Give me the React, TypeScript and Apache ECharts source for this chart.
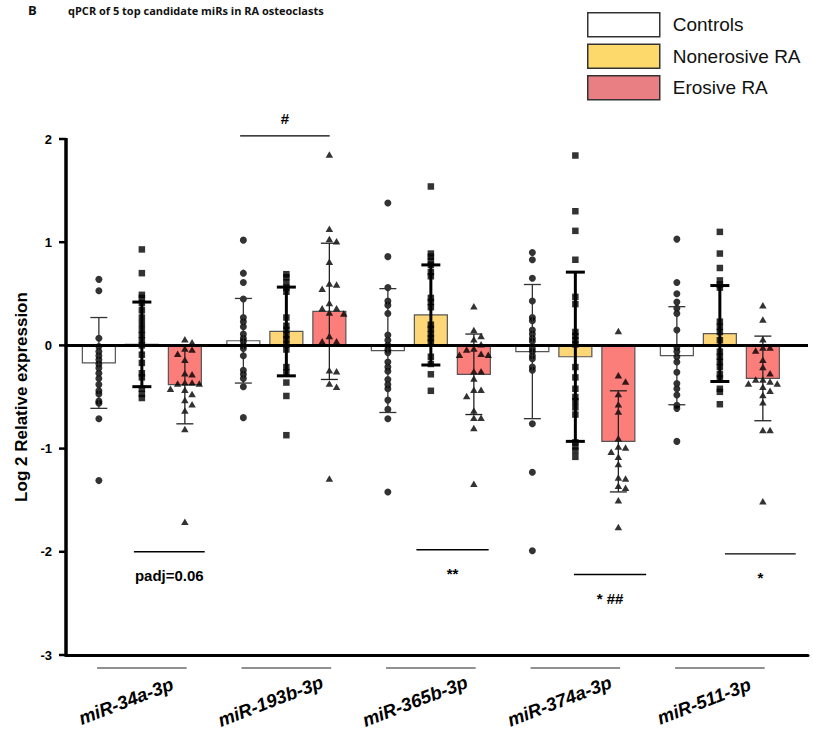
import React, { useEffect, useRef } from 'react';
import * as echarts from 'echarts';

// ---------- data ----------
const categories = ['miR-34a-3p', 'miR-193b-3p', 'miR-365b-3p', 'miR-374a-3p', 'miR-511-3p'];
const groups = ['Controls', 'Nonerosive RA', 'Erosive RA'];

const controlsMean = [-0.17, 0.045, -0.05, -0.06, -0.1];
const controlsSD = [0.44, 0.41, 0.6, 0.65, 0.475];
const nonerosiveMean = [0.01, 0.135, 0.295, -0.11, 0.115];
const nonerosiveSD = [0.41, 0.43, 0.485, 0.82, 0.465];
const erosiveMean = [-0.38, 0.33, -0.28, -0.93, -0.32];
const erosiveSD = [0.38, 0.66, 0.39, 0.49, 0.41];

const controlsPoints = [
  [0.64, 0.53, 0.07, -0.01, -0.06, -0.1, -0.14, -0.18, -0.22, -0.27, -0.32, -0.38, -0.44, -0.47, -0.54, -0.56, -0.71, -1.31],
  [1.02, 0.7, 0.61, 0.45, 0.27, 0.23, 0.18, 0.11, 0.07, 0.04, 0.0, -0.03, -0.1, -0.24, -0.28, -0.32, -0.4, -0.7],
  [1.38, 0.86, 0.56, 0.43, 0.39, 0.31, 0.1, 0.05, 0.0, -0.04, -0.07, -0.16, -0.21, -0.25, -0.33, -0.38, -0.42, -0.53, -0.62, -0.71, -1.42],
  [0.9, 0.83, 0.65, 0.43, 0.27, 0.24, 0.15, 0.11, 0.07, 0.04, -0.03, -0.06, -0.1, -0.13, -0.21, -0.24, -0.76, -1.23, -1.99],
  [1.03, 0.61, 0.5, 0.42, 0.36, 0.31, 0.15, -0.02, -0.06, -0.11, -0.16, -0.26, -0.37, -0.42, -0.48, -0.58, -0.61, -0.93],
];
const nonerosivePoints = [
  [0.93, 0.7, 0.49, 0.46, 0.41, 0.34, 0.27, 0.21, 0.15, 0.1, 0.05, 0.0, -0.09, -0.17, -0.27, -0.31, -0.42, -0.47, -0.51],
  [0.69, 0.66, 0.61, 0.56, 0.52, 0.27, 0.19, 0.15, 0.1, 0.06, 0.01, -0.04, -0.21, -0.26, -0.36, -0.49, -0.87],
  [1.54, 0.89, 0.86, 0.82, 0.78, 0.71, 0.67, 0.46, 0.42, 0.37, 0.2, 0.16, 0.11, 0.07, 0.03, -0.11, -0.18, -0.28, -0.44],
  [1.84, 1.3, 1.11, 0.83, 0.47, 0.4, 0.13, 0.09, 0.05, 0.01, -0.21, -0.31, -0.42, -0.5, -0.54, -0.6, -0.67, -0.94, -0.98, -1.02, -1.08],
  [1.1, 0.89, 0.75, 0.63, 0.59, 0.56, 0.23, 0.18, 0.13, 0.05, -0.06, -0.11, -0.16, -0.21, -0.28, -0.32, -0.42, -0.45, -0.57],
];
const erosivePoints = [
  [0.06, 0.03, -0.03, -0.04, -0.08, -0.14, -0.27, -0.28, -0.36, -0.36, -0.37, -0.37, -0.42, -0.43, -0.47, -0.53, -0.57, -0.63, -0.81, -1.71],
  [1.85, 1.13, 1.03, 1.01, 0.81, 0.6, 0.59, 0.55, 0.41, 0.36, 0.36, 0.32, 0.31, 0.09, 0.04, 0.04, -0.24, -0.25, -0.37, -0.4, -1.29],
  [0.38, 0.15, 0.09, 0.06, 0.01, -0.03, -0.04, -0.08, -0.09, -0.09, -0.25, -0.25, -0.32, -0.43, -0.43, -0.49, -0.63, -0.7, -0.7, -0.8, -1.34],
  [0.14, -0.29, -0.35, -0.47, -0.57, -0.64, -0.9, -0.98, -0.99, -1.03, -1.08, -1.15, -1.28, -1.29, -1.36, -1.38, -1.5, -1.76],
  [0.39, 0.25, 0.06, -0.02, -0.02, -0.05, -0.14, -0.21, -0.27, -0.33, -0.33, -0.35, -0.37, -0.37, -0.4, -0.44, -0.48, -0.55, -0.82, -0.82, -1.51],
];

// significance annotations
const annCats = [0, 1, 2, 3, 4];
const annLevels = [-2.0, 2.03, -1.98, -2.22, -2.02];
const annTexts = ['padj=0.06', '#', '**', '* ##', '*'];

// y tick values
const yTicks = [-3, -2, -1, 0, 1, 2];

// ---------- layout / style ----------
const GRID = { left: 66, top: 139, width: 742, height: 516 };
const X_MIN = -0.525;
const X_MAX = 4.61;
const Y_MIN = -3;
const Y_MAX = 2;
const PX_X = GRID.width / (X_MAX - X_MIN);
const PX_Y = GRID.height / (Y_MAX - Y_MIN);
const GROUP_STEP = 43 / PX_X;
const BAR_W = 33;
const LABEL_SHIFT = 0.11;
const annShift = [0.19, -0.01, 0.15, 0.24, 0.28];
const annHalf = [0.245, 0.31, 0.25, 0.25, 0.245];
const annAbove = [false, true, false, false, false];

const FONT = 'Liberation Sans, Arial, sans-serif';
const barFill = ['#ffffff', '#FDD677', '#FB7E7A'];
const legendFill = ['#ffffff', '#FCD96A', '#E97F82'];
const symbols = ['circle', 'rect', 'triangle'];
const symbolSizes: any[] = [7, 6.5, [7.5, 6.5]];
const collide = [1, 1, 7];
const errWidth = [1.3, 3, 1.3];
const errColor = ['#333', '#000', '#222'];

const means = [controlsMean, nonerosiveMean, erosiveMean];
const sds = [controlsSD, nonerosiveSD, erosiveSD];
const points = [controlsPoints, nonerosivePoints, erosivePoints];

function swarm(values: number[], dist: number, step: number): number[] {
  const order = values.map((v, i) => i).sort((a, b) => values[b] - values[a]);
  const placed: { x: number; y: number }[] = [];
  const out = new Array(values.length).fill(0);
  for (const idx of order) {
    const y = values[idx] * PX_Y;
    for (let k = 0; k < 40; k++) {
      const m = k === 0 ? 0 : (k % 2 === 1 ? (k + 1) / 2 : -k / 2);
      const x = m * step;
      const ok = placed.every((p) => (p.x - x) ** 2 + (p.y - y) ** 2 >= dist * dist);
      if (ok) {
        placed.push({ x, y });
        out[idx] = x / PX_X;
        break;
      }
    }
  }
  return out;
}

export default function App() {
  const ref = useRef<HTMLDivElement>(null);
  useEffect(() => {
    if (!ref.current) return;
    const chart = echarts.init(ref.current, null, { renderer: 'svg' });
    const series: any[] = [];

    // bars
    groups.forEach((g, s) => {
      series.push({
        name: g,
        type: 'custom',
        z: 1,
        encode: { x: 0, y: 1 },
        itemStyle: { color: legendFill[s], borderColor: '#333', borderWidth: 1.5 },
        data: categories.map((_, i) => [i + (s - 1) * GROUP_STEP, means[s][i]]),
        renderItem: (_p: any, api: any) => {
          const x = api.value(0);
          const m = api.value(1);
          const top = api.coord([x, m]);
          const base = api.coord([x, 0]);
          return {
            type: 'rect',
            shape: { x: top[0] - BAR_W / 2, y: Math.min(top[1], base[1]), width: BAR_W, height: Math.abs(top[1] - base[1]) },
            style: { fill: barFill[s], stroke: '#555', lineWidth: 1.2 },
          };
        },
      });
    });

    // points
    groups.forEach((g, s) => {
      const data: number[][] = [];
      points[s].forEach((vals, i) => {
        const offs = swarm(vals, collide[s], 7.2);
        vals.forEach((v, j) => data.push([i + (s - 1) * GROUP_STEP + offs[j], v]));
      });
      const ser: any = {
        name: g + ' points',
        type: 'scatter',
        z: 3,
        symbol: symbols[s],
        symbolSize: symbolSizes[s],
        itemStyle: { color: '#000' },
        data,
      };
      if (s === 0) {
        ser.markLine = {
          silent: true,
          symbol: 'none',
          label: { show: false },
          lineStyle: { color: '#000', width: 3, type: 'solid' },
          data: [{ yAxis: 0 }],
        };
      }
      series.push(ser);
    });

    // error bars
    groups.forEach((g, s) => {
      series.push({
        name: g + ' sd',
        type: 'custom',
        z: 4,
        encode: { x: 0, y: 1 },
        data: categories.map((_, i) => [i + (s - 1) * GROUP_STEP, means[s][i], sds[s][i]]),
        renderItem: (_p: any, api: any) => {
          const x = api.value(0);
          const m = api.value(1);
          const sd = api.value(2);
          const hi = api.coord([x, m + sd]);
          const lo = api.coord([x, m - sd]);
          const cw = s === 1 ? 9.5 : 8.5;
          const st = { stroke: errColor[s], lineWidth: errWidth[s] };
          return {
            type: 'group',
            children: [
              { type: 'line', shape: { x1: hi[0], y1: hi[1], x2: lo[0], y2: lo[1] }, style: st },
              { type: 'line', shape: { x1: hi[0] - cw, y1: hi[1], x2: hi[0] + cw, y2: hi[1] }, style: st },
              { type: 'line', shape: { x1: lo[0] - cw, y1: lo[1], x2: lo[0] + cw, y2: lo[1] }, style: st },
            ],
          };
        },
      });
    });

    // group lines under the axis
    series.push({
      name: 'group lines',
      type: 'custom',
      clip: false,
      silent: true,
      encode: { x: 0, y: 1 },
      data: categories.map((_, i) => [i, Y_MIN]),
      renderItem: (_p: any, api: any) => {
        const a = api.coord([api.value(0) - 0.31, api.value(1)]);
        const b = api.coord([api.value(0) + 0.31, api.value(1)]);
        return {
          type: 'line',
          shape: { x1: a[0], y1: a[1] + 13, x2: b[0], y2: b[1] + 13 },
          style: { stroke: '#222', lineWidth: 1.2 },
        };
      },
    });

    // significance annotations
    series.push({
      name: 'annotations',
      type: 'custom',
      clip: false,
      silent: true,
      z: 5,
      encode: { x: 0, y: 1 },
      data: annCats.map((c, k) => [c + annShift[k], annLevels[k], k]),
      renderItem: (_p: any, api: any) => {
        const k = api.value(2);
        const x = api.value(0);
        const y = api.value(1);
        const a = api.coord([x - annHalf[k], y]);
        const b = api.coord([x + annHalf[k], y]);
        const c = api.coord([x, y]);
        return {
          type: 'group',
          children: [
            { type: 'line', shape: { x1: a[0], y1: a[1], x2: b[0], y2: b[1] }, style: { stroke: '#000', lineWidth: 1.4 } },
            {
              type: 'text',
              style: {
                text: annTexts[k],
                x: c[0],
                y: c[1] + (annAbove[k] ? -17 : 24),
                align: 'center',
                verticalAlign: 'middle',
                fontSize: 15,
                fontWeight: 'bold',
                fontFamily: FONT,
                fill: '#000',
              },
            },
          ],
        };
      },
    });

    chart.setOption({
      animation: false,
      backgroundColor: '#fff',
      grid: { left: GRID.left, top: GRID.top, width: GRID.width, height: GRID.height, containLabel: false },
      legend: {
        data: groups.map((g, s) => ({
          name: g,
          icon: 'rect',
          itemStyle: { color: legendFill[s], borderColor: '#333', borderWidth: 1.5 },
        })),
        orient: 'vertical',
        left: 587,
        top: 12,
        padding: 0,
        itemWidth: 72,
        itemHeight: 24,
        itemGap: 6,
        selectedMode: false,
        textStyle: { fontSize: 19, fontFamily: FONT, color: '#111', padding: [0, 0, 0, 8] },
      },
      xAxis: {
        type: 'value',
        min: X_MIN,
        max: X_MAX,
        axisLine: { show: true, onZero: false, lineStyle: { color: '#000', width: 3 } },
        axisTick: { show: false },
        splitLine: { show: false },
        axisLabel: {
          customValues: categories.map((_, i) => i - LABEL_SHIFT),
          formatter: (v: number) => categories[Math.round(v + LABEL_SHIFT)] || '',
          rotate: 21,
          align: 'center',
          verticalAlign: 'middle',
          margin: 46,
          fontSize: 18.5,
          fontWeight: 'bold',
          fontStyle: 'italic',
          fontFamily: FONT,
          color: '#000',
        },
      },
      yAxis: {
        type: 'value',
        position: 'left',
        min: Y_MIN,
        max: Y_MAX,
        interval: 1,
        axisLine: { show: false, onZero: false },
        axisTick: { show: false },
        splitLine: { show: false },
        axisLabel: { fontSize: 13, fontWeight: 'bold', color: '#000', margin: 14, fontFamily: FONT },
        name: 'Log 2 Relative expression',
        nameLocation: 'middle',
        nameGap: 36,
        nameTextStyle: { fontSize: 17, fontWeight: 'bold', color: '#000', fontFamily: FONT },
      },
      series,
    });

    // y axis line and ticks, positioned through the chart's own scale
    const bottom = chart.convertToPixel({ gridIndex: 0 }, [X_MIN, Y_MIN]) as number[];
    const top = chart.convertToPixel({ gridIndex: 0 }, [X_MIN, Y_MAX]) as number[];
    const axisEls: any[] = [
      {
        type: 'line',
        z: 100,
        silent: true,
        shape: { x1: bottom[0], y1: bottom[1] + 1.5, x2: top[0], y2: top[1] - 1 },
        style: { stroke: '#000', lineWidth: 3.5 },
      },
      ...yTicks.map((t) => {
        const p = chart.convertToPixel({ gridIndex: 0 }, [X_MIN, t]) as number[];
        return {
          type: 'line',
          z: 100,
          silent: true,
          shape: { x1: p[0] - 7, y1: p[1], x2: p[0], y2: p[1] },
          style: { stroke: '#000', lineWidth: 2.5 },
        };
      }),
    ];
    chart.setOption({
      graphic: [
        { type: 'text', x: 28, y: 10, style: { text: 'B', fontSize: 13, fontWeight: 'bold', fontFamily: 'Open Sans', fill: '#111', verticalAlign: 'middle' } },
        {
          type: 'text',
          x: 68,
          y: 10,
          style: {
            text: 'qPCR of 5 top candidate miRs in RA osteoclasts',
            fontSize: 11,
            fontWeight: 'bold',
            fontFamily: 'Open Sans',
            fill: '#111',
            verticalAlign: 'middle',
          },
        },
        ...axisEls,
      ],
    });
    return () => chart.dispose();
  }, []);
  return <div ref={ref} style={{ position: 'fixed', left: 0, top: 0, width: 813, height: 735, background: '#fff' }} />;
}
